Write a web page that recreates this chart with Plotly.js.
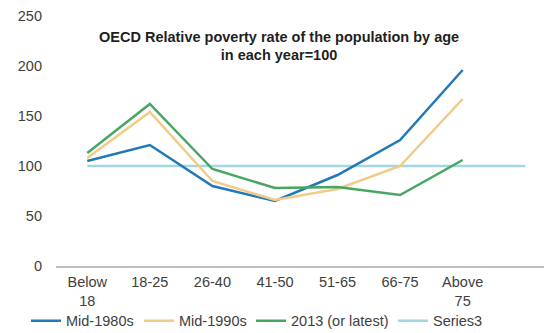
<!DOCTYPE html>
<html>
<head>
<meta charset="utf-8">
<script src="https://cdn.plot.ly/plotly-3.0.1.min.js"></script>
<style>
  html, body { margin: 0; padding: 0; background: #fff; }
  #chart { width: 544px; height: 333px; }
</style>
</head>
<body>
<div id="chart"></div>
<script>
// Age groups (the last slot is an empty band the reference line runs into)
var ageGroups = ['Below<br>18', '18-25', '26-40', '41-50', '51-65', '66-75', 'Above<br>75', ''];

// Relative poverty rate by age, total population in each year = 100
var mid1980s = [105, 121, 80, 65, 91, 126, 196];
var mid1990s = [108, 154, 85, 66, 77, 100, 167];
var latest2013 = [113, 162, 97, 78, 79, 71, 106];
var series3 = [100, 100, 100, 100, 100, 100, 100, 100];

var seriesNames = ['Mid-1980s', 'Mid-1990s', '2013 (or latest)', 'Series3'];
var seriesColors = ['#2179b6', '#f0cb8a', '#48a663', '#a3d6e2'];
var seriesValues = [mid1980s, mid1990s, latest2013, series3];

var font = 'Liberation Sans, Arial, sans-serif';
var textColor = '#404040';

// Plot area geometry
var marginL = 56, marginT = 16, plotW = 544 - 56, plotH = 333 - 16 - 67;

// Each series gets its own legend box, laid out left to right in one row
var legendIds = ['legend', 'legend2', 'legend3', 'legend4'];
var legendLeftPx = [26, 139, 251, 393];

var traces = seriesValues.map(function (vals, i) {
  return {
    type: 'scatter',
    mode: 'lines',
    name: seriesNames[i],
    legend: legendIds[i],
    x: ageGroups.slice(0, vals.length),
    y: vals,
    line: { color: seriesColors[i], width: 2.5 },
    hoverinfo: 'x+y+name'
  };
});
// draw the reference line underneath the data series
traces = [traces[3], traces[0], traces[1], traces[2]];

var layout = {
  width: 544,
  height: 333,
  margin: { l: marginL, r: 0, t: marginT, b: 67, autoexpand: false },
  paper_bgcolor: '#ffffff',
  plot_bgcolor: '#ffffff',
  font: { family: font, size: 14.5, color: textColor },
  showlegend: true,
  title: {
    text: '<b>OECD Relative poverty rate of the population by age<br>in each year=100</b>',
    font: { family: font, size: 14.5, color: '#1f1f1f' },
    x: 0.513,
    xanchor: 'center',
    xref: 'container',
    y: 0.875,
    yanchor: 'top',
    yref: 'container'
  },
  xaxis: {
    type: 'category',
    categoryorder: 'array',
    categoryarray: ageGroups,
    tickvals: ageGroups,
    ticktext: ageGroups,
    range: [-0.5, 7.3],
    showgrid: false,
    zeroline: false,
    showline: true,
    linecolor: '#bfbfbf',
    linewidth: 1.5,
    ticks: '',
    ticklabelstandoff: 2,
    tickfont: { family: font, size: 14.5, color: textColor },
    fixedrange: true
  },
  yaxis: {
    range: [0, 250],
    tickvals: [0, 50, 100, 150, 200, 250],
    showgrid: false,
    zeroline: false,
    showline: false,
    ticks: '',
    ticklabelstandoff: 13,
    tickfont: { family: font, size: 14.5, color: textColor },
    fixedrange: true
  }
};

legendIds.forEach(function (id, i) {
  layout[id] = {
    orientation: 'h',
    x: (legendLeftPx[i] - marginL) / plotW,
    xanchor: 'left',
    y: -0.155,
    yanchor: 'top',
    bgcolor: 'rgba(0,0,0,0)',
    font: { family: font, size: 14.5, color: textColor },
    itemwidth: 30
  };
});

Plotly.newPlot('chart', traces, layout, { displayModeBar: false, staticPlot: true });
</script>
</body>
</html>
